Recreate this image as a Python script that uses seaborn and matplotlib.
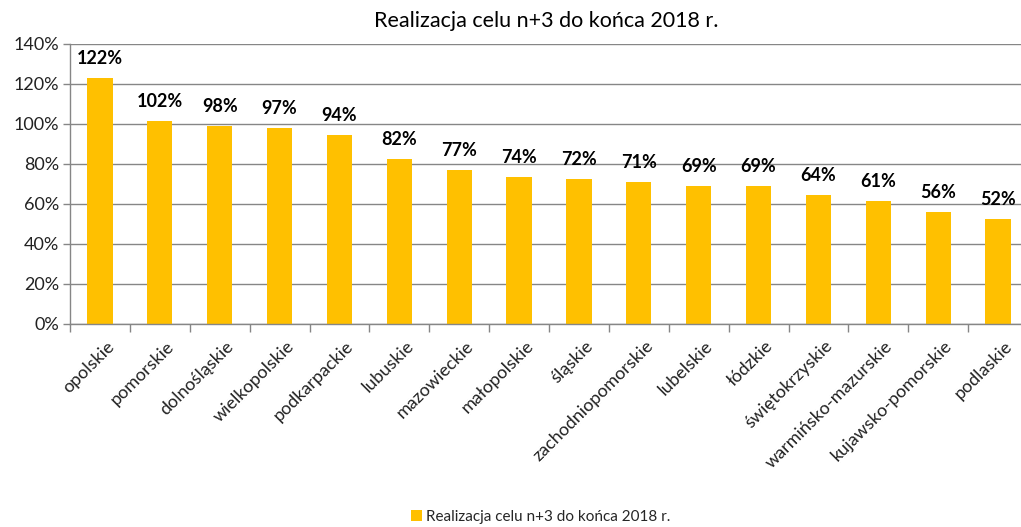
import matplotlib
matplotlib.use("Agg")
import matplotlib.pyplot as plt
import seaborn as sns
import pandas as pd
from matplotlib.patches import Patch
from matplotlib.ticker import FuncFormatter, FixedLocator

categories = ["opolskie", "pomorskie", "dolnośląskie", "wielkopolskie", "podkarpackie",
              "lubuskie", "mazowieckie", "małopolskie", "śląskie", "zachodniopomorskie",
              "lubelskie", "łódzkie", "świętokrzyskie", "warmińsko-mazurskie",
              "kujawsko-pomorskie", "podlaskie"]
values = [122.9, 101.5, 99.0, 98.0, 94.5, 82.4, 76.9, 73.4, 72.4, 70.9, 68.9, 68.9,
          64.4, 61.4, 55.9, 52.4]
label_texts = ["122%", "102%", "98%", "97%", "94%", "82%", "77%", "74%", "72%", "71%",
               "69%", "69%", "64%", "61%", "56%", "52%"]
series_name = "Realizacja celu n+3 do końca 2018 r."
title = "Realizacja celu n+3 do końca 2018 r."

sns.set_theme(style="white")
plt.rcParams['font.family'] = ['Lato', 'DejaVu Sans']

df = pd.DataFrame({"cat": categories, "val": values})

fig = plt.figure(figsize=(10.21, 5.27), dpi=100)
ax = fig.add_axes([70/1021, 1 - 324/527, (1028 - 70)/1021, (324 - 43.5)/527])

bar_color = "#FFC000"
sns.barplot(data=df, x="cat", y="val", color=bar_color, width=0.42, ax=ax,
            saturation=1, edgecolor="none")

ax.set_ylim(0, 140)
ax.set_xlim(-0.5, len(categories) - 0.5)
ax.yaxis.set_major_locator(FixedLocator(list(range(0, 141, 20))))
ax.yaxis.set_major_formatter(FuncFormatter(lambda v, p: f"{int(v)}%"))
ax.grid(axis="y", color="#868686", linewidth=1)
ax.set_axisbelow(True)

for s in ["top", "right"]:
    ax.spines[s].set_visible(False)
for s in ["left", "bottom"]:
    ax.spines[s].set_color("#868686")
    ax.spines[s].set_linewidth(1)

ax.set_xlabel("")
ax.set_ylabel("")
ax.tick_params(axis="y", which="major", length=5, color="#868686", width=1,
               labelsize=13, labelcolor="#222222", pad=3, left=True)
ax.set_xticks(range(len(categories)))
ax.set_xticklabels(categories, rotation=45, ha="right", rotation_mode="anchor",
                   fontsize=13, color="#222222")
ax.tick_params(axis="x", which="major", length=0, pad=10)
ax.set_xticks([i - 0.5 for i in range(len(categories) + 1)], minor=True)
ax.tick_params(axis="x", which="minor", length=6, color="#868686", width=1, bottom=True)
for lbl in ax.get_xticklabels():
    lbl.set_transform(lbl.get_transform() + matplotlib.transforms.ScaledTranslation(6/100, 0, fig.dpi_scale_trans))

for i, (v, t) in enumerate(zip(values, label_texts)):
    ax.annotate(t, xy=(i, v), xytext=(0, 8), textcoords="offset points",
                ha="center", va="bottom", fontsize=13, fontweight="bold", color="#000000")

fig.text(546/1021, 1 - 21/527, title, ha="center", va="center", fontsize=15.5, color="#000000")

handles = [Patch(facecolor=bar_color, edgecolor="none", label=series_name)]
fig.legend(handles=handles, loc="center", bbox_to_anchor=(541/1021, 1 - 517/527),
           frameon=False, fontsize=11, handlelength=0.7, handleheight=0.7,
           handletextpad=0.3)

fig.savefig("out.png", dpi=100)
